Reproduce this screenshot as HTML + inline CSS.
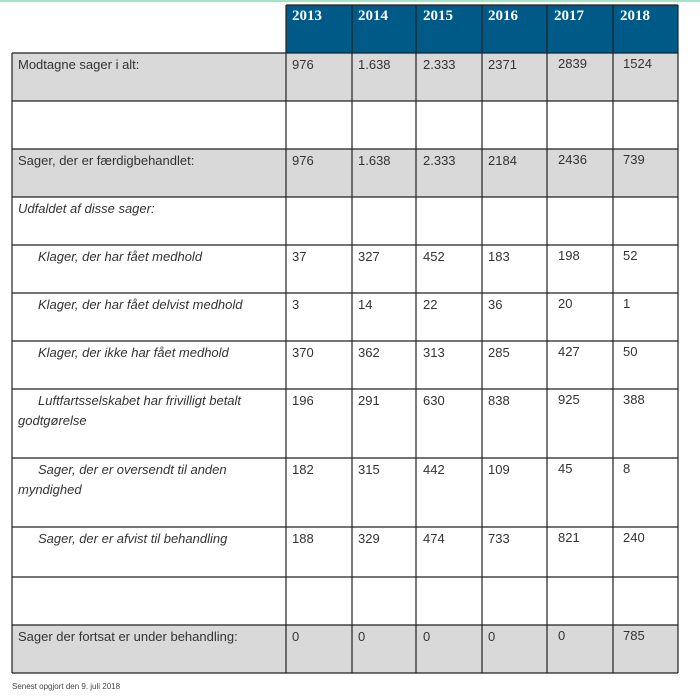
<!DOCTYPE html>
<html><head><meta charset="utf-8"><style>
body{margin:0;width:700px;height:700px;background:#fff;position:relative;overflow:hidden;font-family:"Liberation Sans",sans-serif;}
.t{position:absolute;font-size:13px;color:#333;white-space:nowrap;line-height:20px}
.h{position:absolute;font-family:"Liberation Serif",serif;font-weight:bold;color:#fff;font-size:15px;top:8px}
.i{font-style:italic}
</style></head><body>
<div style="position:absolute;left:0;top:0;width:700px;height:2px;background:#a8e0c8"></div>
<svg width="700" height="700" style="position:absolute;left:0;top:0">
<rect x="286" y="5" width="392" height="48" fill="#005a87"/>
<g fill="#d9d9d9">
<rect x="12" y="53" width="666" height="48"/>
<rect x="12" y="149" width="666" height="48"/>
<rect x="12" y="625" width="666" height="48"/>
</g>
<g stroke="#222" stroke-width="1.2" fill="none">
<path d="M286 5H678M12 53H678M12 101H678M12 149H678M12 197H678M12 245H678M12 293H678M12 341H678M12 389H678M12 458H678M12 527H678M12 577H678M12 625H678M12 673H678"/>
<path d="M12 53V673M286 5V673M352 5V673M416 5V673M482 5V673M547 5V673M613 5V673M678 5V673"/>
</g>
</svg>
<div class="h" style="left:292px">2013</div><div class="h" style="left:358px">2014</div><div class="h" style="left:423px">2015</div><div class="h" style="left:488px">2016</div><div class="h" style="left:554px">2017</div><div class="h" style="left:620px">2018</div>
<div class="t" style="left:18px;top:55px">Modtagne sager i alt:</div>
<div class="t" style="left:18px;top:151px">Sager, der er færdigbehandlet:</div>
<div class="t i" style="left:18px;top:199px">Udfaldet af disse sager:</div>
<div class="t i" style="left:38px;top:247px">Klager, der har fået medhold</div>
<div class="t i" style="left:38px;top:295px">Klager, der har fået delvist medhold</div>
<div class="t i" style="left:38px;top:343px">Klager, der ikke har fået medhold</div>
<div class="t i" style="left:38px;top:391px">Luftfartsselskabet har frivilligt betalt<br><span style="margin-left:-20px">godtgørelse</span></div>
<div class="t i" style="left:38px;top:460px">Sager, der er oversendt til anden<br><span style="margin-left:-20px">myndighed</span></div>
<div class="t i" style="left:38px;top:529px">Sager, der er afvist til behandling</div>
<div class="t" style="left:18px;top:627px">Sager der fortsat er under behandling:</div>
<div id="nums"></div>
<div style="position:absolute;left:12px;top:682px;font-size:8px;color:#444">Senest opgjort den 9. juli 2018</div>
<script>
var rows=[[55,["976","1.638","2.333","2371","2839","1524"]],[151,["976","1.638","2.333","2184","2436","739"]],[247,["37","327","452","183","198","52"]],[295,["3","14","22","36","20","1"]],[343,["370","362","313","285","427","50"]],[391,["196","291","630","838","925","388"]],[460,["182","315","442","109","45","8"]],[529,["188","329","474","733","821","240"]],[627,["0","0","0","0","0","785"]]];
var xs=[292,358,423,488,558,623],h="";
rows.forEach(function(r){r[1].forEach(function(v,i){h+='<div class="t" style="left:'+xs[i]+'px;top:'+(r[0]-(i>3?1:0))+'px">'+v+'</div>';});});
document.getElementById("nums").innerHTML=h;
</script>
</body></html>
